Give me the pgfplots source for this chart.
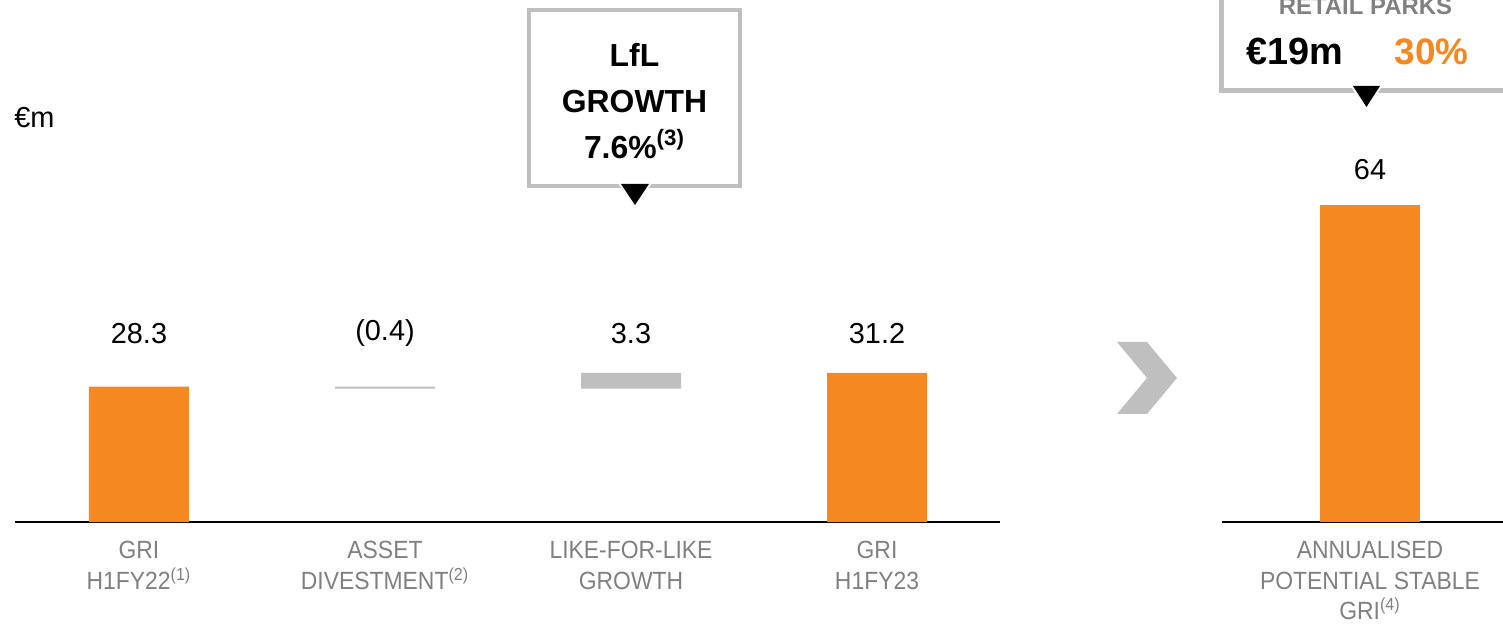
\documentclass[border=0pt]{standalone}
\usepackage{fontspec}
\setmainfont{Liberation Sans}
\newfontfamily\labfont[FakeStretch=0.92]{Liberation Sans}
\usepackage{pgfplots}
\pgfplotsset{compat=1.18}
\definecolor{brandorange}{RGB}{245,136,32}
\definecolor{barGrey}{RGB}{191,191,191}
\definecolor{labGrey}{RGB}{128,128,128}

\pgfplotsset{
  basestyle/.style={
    scale only axis, anchor=south west, clip=false,
    ymin=0, axis x line*=bottom, axis y line=none,
    x axis line style={line width=1bp, black, -},
    major tick length=0pt, ytick=\empty,
    xticklabel style={font=\labfont\fontsize{12.5}{15.25}\selectfont,
      text=labGrey, align=center, anchor=north, inner sep=0pt, yshift=-9.5bp},
  },
}

\begin{document}
\begin{tikzpicture}
\useasboundingbox (0,0) rectangle (751.5bp,-312.5bp);

% waterfall, H1FY22 -> H1FY23
\begin{axis}[basestyle,
  at={(7.5bp,-261bp)}, width=492.5bp, height=95.6bp,
  xmin=-0.504, xmax=3.5, ymax=40,
  ybar stacked, bar width=50bp,
  xtick={0,1,2,3},
  xticklabels={{GRI\\H1FY22\textsuperscript{(1)}},
               {ASSET\\DIVESTMENT\textsuperscript{(2)}},
               {LIKE-FOR-LIKE\\GROWTH},
               {GRI\\H1FY23}},
]
\addplot[draw=none, fill=none] coordinates {(0,0) (1,27.9) (2,27.9) (3,0)};
\addplot[draw=none, fill=brandorange] coordinates {(0,28.3) (1,0) (2,0) (3,31.2)};
\addplot[draw=none, fill=barGrey] coordinates {(0,0) (1,0.4) (2,3.3) (3,0)};
\end{axis}

% value labels above the waterfall, all on one line
\begin{axis}[at={(7.5bp,-261bp)}, anchor=south west, scale only axis,
  width=492.5bp, height=95.6bp, xmin=-0.504, xmax=3.5, ymin=0, ymax=40,
  hide axis, clip=false,
  nodes near coords, point meta=explicit symbolic,
  every node near coord/.append style={anchor=center, text=black,
    font=\fontsize{14.5}{17}\selectfont},
]
\addplot[draw=none] table[meta=lab] {
x y lab
0 39.5 28.3
1 39.5 (0.4)
2 39.5 3.3
3 39.5 31.2
};
\end{axis}

% annualised potential
\begin{axis}[basestyle,
  at={(611bp,-261bp)}, width=140.5bp, height=173.4bp,
  xmin=-148, xmax=133, ymax=70,
  ybar, bar width=50bp,
  xtick={0},
  xticklabels={{ANNUALISED\\POTENTIAL STABLE\\GRI\textsuperscript{(4)}}},
  nodes near coords, point meta=explicit symbolic,
  every node near coord/.append style={anchor=center, yshift=17.5bp,
    text=black, font=\fontsize{14.5}{17}\selectfont},
]
\addplot[draw=none, fill=brandorange] table[meta=lab] {
x y lab
0 64 64
};
\end{axis}

\begin{scope}[x=0.5bp, y=-0.5bp]
  % chevron
  \fill[barGrey] (1117,342) -- (1147,342) -- (1177,378) -- (1147,414)
    -- (1117,414) -- (1147,378) -- cycle;
  % unit
  \node[anchor=west, inner sep=0pt, font=\fontsize{14.5}{17}\selectfont] at (14,118) {€m};
  % LfL callout
  \draw[barGrey, line width=2bp, fill=white] (529,10) rectangle (740,186);
  \node[align=center, font=\bfseries\fontsize{16}{23}\selectfont] at (634.5,101)
    {LfL\\GROWTH\\7.6\%\textsuperscript{(3)}};
  \draw[white, line width=2bp, line join=miter] (621,184) -- (649,184) -- (635,205) -- cycle;
  \fill[black] (621,184) -- (649,184) -- (635,205) -- cycle;
  % retail parks callout
  \draw[barGrey, line width=2.5bp, fill=white] (1221.5,-60) rectangle (1600,90.5);
  \node[anchor=base, text=labGrey, font=\bfseries\fontsize{12}{14}\selectfont] at (1365.5,14) {RETAIL PARKS};
  \node[anchor=base, font=\bfseries\fontsize{19}{22}\selectfont] at (1295,64) {€19m};
  \node[anchor=base, text=brandorange, font=\bfseries\fontsize{18.5}{22}\selectfont] at (1431.5,64) {30\%};
  \draw[white, line width=2bp, line join=miter] (1353,86) -- (1380,86) -- (1366.5,107) -- cycle;
  \fill[black] (1353,86) -- (1380,86) -- (1366.5,107) -- cycle;
\end{scope}
\end{tikzpicture}
\end{document}
